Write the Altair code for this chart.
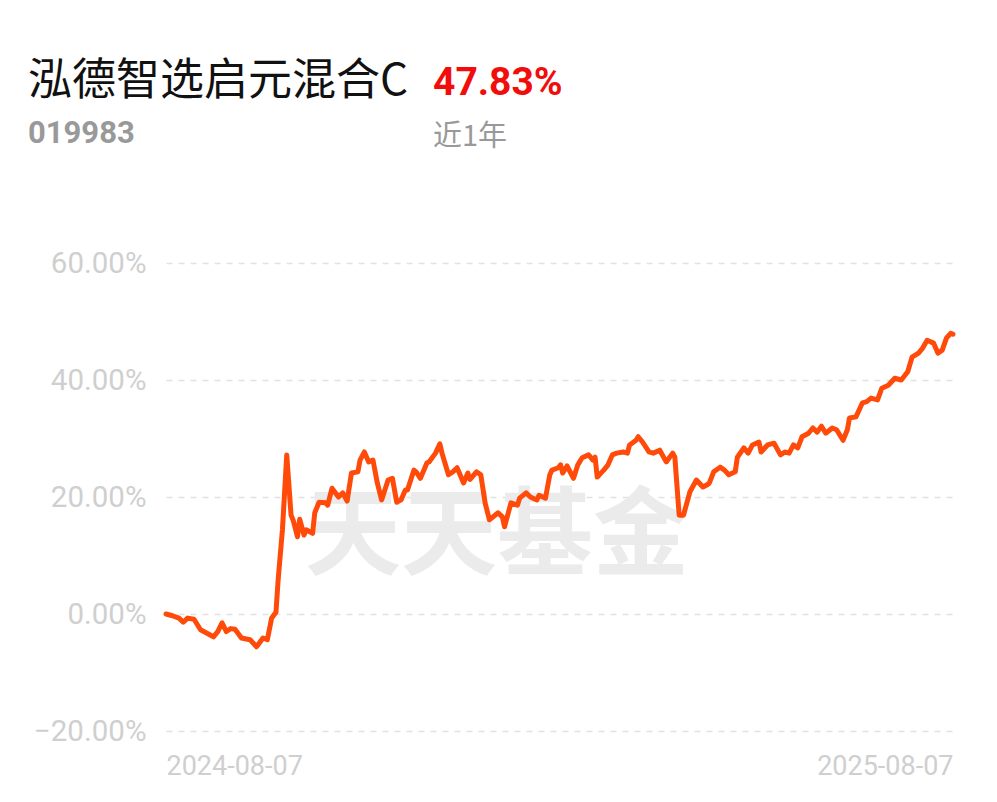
import altair as alt
import pandas as pd

# day offsets from 2024-08-07 and cumulative return (%)
days = [0, 3, 6, 8, 10, 13, 16, 19, 22, 24, 26, 28, 30, 32, 35, 39, 42, 45, 47, 49,
        51, 52, 54, 56, 58, 59, 61, 62, 64, 65, 68, 69, 71, 74, 75, 77, 80, 82, 84, 86,
        89, 90, 92, 94, 96, 98, 100, 103, 105, 107, 109, 111, 112, 115, 116, 118, 121, 122, 125, 127,
        128, 131, 133, 135, 138, 140, 141, 144, 146, 148, 150, 154, 156, 157, 160, 163, 164, 167, 169, 172,
        173, 176, 178, 179, 182, 183, 184, 186, 189, 191, 193, 196, 198, 199, 200, 203, 205, 207, 209, 212,
        214, 215, 218, 219, 221, 224, 226, 229, 232, 235, 236, 238, 240, 243, 246, 249, 251, 252, 254, 257,
        259, 261, 264, 265, 268, 270, 272, 275, 276, 279, 282, 285, 287, 289, 291, 293, 295, 298, 300, 302,
        304, 306, 309, 311, 314, 316, 317, 320, 323, 325, 327, 330, 332, 335, 338, 341, 344, 346, 349, 351,
        353, 356, 358, 360, 362, 364, 365]
values = [0.0, -0.3, -0.7, -1.4, -0.7, -0.9, -2.7, -3.3, -3.9, -3.0, -1.5, -3.0, -2.5, -2.6, -4.1, -4.4, -5.6, -4.1, -4.4, -0.7,
          0.3, 5.8, 14.4, 27.2, 16.9, 16.0, 13.2, 16.2, 13.5, 14.4, 13.8, 17.3, 19.1, 19.0, 18.6, 21.5, 20.0, 20.7, 19.3, 24.1,
          24.3, 26.3, 27.7, 26.0, 26.3, 22.4, 19.5, 22.9, 23.2, 19.1, 19.5, 21.2, 21.2, 24.6, 24.3, 23.2, 25.8, 26.0, 27.5, 29.1,
          27.5, 23.8, 24.3, 25.0, 22.4, 24.1, 23.0, 24.3, 23.8, 19.0, 16.1, 17.3, 16.6, 14.9, 19.0, 18.6, 19.8, 20.7, 20.0, 19.5,
          20.3, 19.8, 23.8, 24.6, 25.0, 25.5, 24.1, 25.3, 23.2, 25.5, 26.7, 27.2, 26.3, 26.8, 23.4, 24.6, 25.5, 27.2, 27.5, 27.7,
          27.5, 28.9, 29.7, 30.3, 29.4, 27.7, 27.5, 28.0, 26.0, 27.5, 26.8, 16.9, 16.9, 20.9, 22.9, 21.7, 22.1, 22.4, 24.3, 25.1,
          24.6, 23.8, 24.3, 26.8, 28.4, 27.5, 28.9, 29.4, 27.7, 28.9, 29.2, 27.2, 27.7, 27.5, 28.9, 28.4, 30.3, 30.9, 31.8, 31.1,
          32.1, 30.9, 31.8, 31.5, 29.7, 31.5, 33.5, 33.7, 36.1, 36.3, 36.9, 36.6, 38.6, 39.1, 40.3, 40.0, 41.4, 43.9, 44.6, 45.5,
          46.8, 46.3, 44.6, 45.1, 47.2, 48.0, 47.83]

start_date = "2024-08-07"
end_date = "2025-08-07"
y_ticks = [-20, 0, 20, 40, 60]

fund_name = "泓德智选启元混合C"
fund_code = "019983"
fund_return = "47.83%"
period = "近1年"
watermark = "天天基金"

df = pd.DataFrame({
    "date": pd.Timestamp(start_date) + pd.to_timedelta(days, unit="D"),
    "value": values,
})

W, H = 787, 468

x_enc = alt.X("date:T",
              scale=alt.Scale(domain=[start_date, end_date]),
              axis=alt.Axis(values=[start_date, end_date], format="%Y-%m-%d",
                            labelFlush=True, grid=False, domain=False, ticks=False,
                            labelColor="#cfcfcf", labelFontSize=27, labelFont="Roboto",
                            labelPadding=22, title=None))
y_enc = alt.Y("value:Q",
              scale=alt.Scale(domain=[-20, 60], nice=False),
              axis=alt.Axis(values=y_ticks, labelExpr="format(datum.value, '.2f') + '%'",
                            grid=True, gridColor="#e2e2e2", gridDash=[6, 6], gridWidth=1.5,
                            domain=False, ticks=False, labelColor="#cfcfcf",
                            labelFontSize=29.5, labelFont="Roboto", labelPadding=20, title=None))

wm = alt.Chart(pd.DataFrame({"t": [watermark]})).mark_text(
    font="Noto Sans CJK SC", fontSize=96, fontWeight="bold", color="#ebebeb",
    align="center", baseline="middle"
).encode(text="t:N", x=alt.value(331), y=alt.value(275))

line = alt.Chart(df).mark_line(color="#ff4a0a", strokeWidth=5, strokeJoin="round",
                               strokeCap="round").encode(x=x_enc, y=y_enc)

def label(txt, x, y, size, color, weight="normal", font="Noto Sans CJK SC"):
    return alt.Chart(pd.DataFrame({"t": [txt]})).mark_text(
        font=font, fontSize=size, fontWeight=weight, color=color,
        align="left", baseline="alphabetic"
    ).encode(text="t:N", x=alt.value(x), y=alt.value(y))

t1 = label(fund_name, -138, -168, 44, "#111111")
t2 = label(fund_return, 267, -168, 39, "#f20d0d", "bold", "Roboto")
t3 = label(fund_code, -138, -120, 31, "#999999", "bold", "Roboto")
t4 = label(period, 267, -117, 29, "#999999")

chart = alt.layer(wm, line, t1, t2, t3, t4).properties(
    width=W, height=H,
    background="white",
    autosize=alt.AutoSizeParams(type="none"),
    padding={"left": 158, "top": 255, "right": 36, "bottom": 63},
).configure_view(strokeWidth=0)

chart.save("out.html", embed_options={"renderer": "svg", "actions": False})
